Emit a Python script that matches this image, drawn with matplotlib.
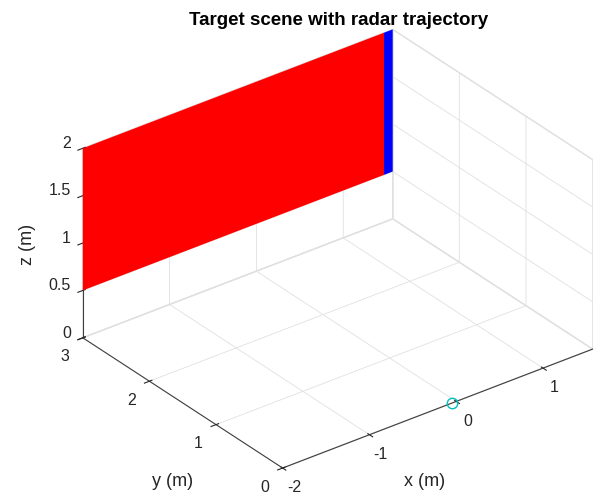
import matplotlib
matplotlib.use('Agg')
import matplotlib.pyplot as plt
from mpl_toolkits.mplot3d.art3d import Poly3DCollection

plt.rcParams['font.family'] = ['Liberation Sans', 'DejaVu Sans']
plt.rcParams['axes.unicode_minus'] = False
plt.rcParams['grid.color'] = '#e0e0e0'
plt.rcParams['grid.linewidth'] = 0.6

# axis ranges and ticks
x_lim = [-2, 1.57]
y_lim = [0, 3]
z_lim = [0, 2]
x_ticks = [-2, -1, 0, 1]
y_ticks = [0, 1, 2, 3]
z_ticks = [0, 0.5, 1, 1.5, 2]
z_tick_labels = ['0', '0.5', '1', '1.5', '2']

# target wall: faces between consecutive x edges, at y = wall_y
wall_x = [-2, 1.47, 1.57]
wall_y = 3
wall_z = [0.5, 2]
face_colors = ['red', 'blue']

# radar trajectory
radar_x = [-0.05]
radar_y = [0]
radar_z = [0]

fig = plt.figure(figsize=(6, 4.95), dpi=100)
ax = fig.add_axes([0.1015, -0.0616, 0.8983, 1.0889], projection='3d', proj_type='ortho')
ax.view_init(elev=30, azim=-127.5)

faces = []
for i in range(len(wall_x) - 1):
    faces.append([(wall_x[i], wall_y, wall_z[0]),
                  (wall_x[i + 1], wall_y, wall_z[0]),
                  (wall_x[i + 1], wall_y, wall_z[1]),
                  (wall_x[i], wall_y, wall_z[1])])
ax.add_collection3d(Poly3DCollection(faces, facecolors=face_colors, edgecolors='none'))

ax.plot(radar_x, radar_y, radar_z, 'o', mfc='none', mec='c', ms=7.5)

ax.set_xlim(x_lim)
ax.set_ylim(y_lim)
ax.set_zlim(z_lim)
ax.set_box_aspect((x_lim[1] - x_lim[0], y_lim[1] - y_lim[0], z_lim[1] - z_lim[0]))
ax.set_xticks(x_ticks)
ax.set_yticks(y_ticks)
ax.set_zticks(z_ticks)
ax.set_zticklabels(z_tick_labels)

for axis in (ax.xaxis, ax.yaxis, ax.zaxis):
    axis.set_pane_color((1, 1, 1, 1))
    axis.pane.set_edgecolor('#e0e0e0')
    axis.line.set_color('#404040')
    axis.line.set_linewidth(0.8)
ax.tick_params(labelsize=11.5, colors='#262626')
ax.zaxis.set_tick_params(pad=-3.3)

# MATLAB-like label alignment
for t in ax.xaxis.get_major_ticks() + ax.yaxis.get_major_ticks():
    t.label1.set_va('center_baseline')
for t in ax.zaxis.get_major_ticks():
    t.label1.set_ha('right')
    t.label1.set_va('baseline')

# axis labels, placed like the MATLAB ones
fig.text(0.708, 0.028, 'x (m)', ha='center', va='center', fontsize=13, color='#262626')
fig.text(0.287, 0.028, 'y (m)', ha='center', va='center', fontsize=13, color='#262626')
fig.text(0.045, 0.507, 'z (m)', ha='center', va='center', fontsize=13, color='#262626',
         rotation=90)

fig.text(0.565, 0.958, 'Target scene with radar trajectory', ha='center', va='center',
         fontsize=13.5, fontweight='bold', color='black')

fig.savefig('out.png', dpi=100)
